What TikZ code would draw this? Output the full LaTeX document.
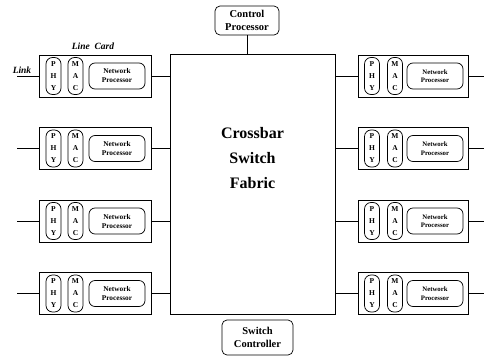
\documentclass[tikz,border=0pt]{standalone}
\usepackage{fontspec}
\setmainfont{Liberation Serif}
\usetikzlibrary{positioning}

\tikzset{
  card/.style={draw, line width=0.9pt, minimum width=112pt, minimum height=42pt, inner sep=0pt},
  pill/.style={draw, line width=0.7pt, rounded corners=6.5pt, minimum width=15pt, minimum height=37pt,
    inner sep=0pt, align=center, font=\fontsize{7.5}{12}\selectfont\bfseries},
  npbox/.style={draw, line width=0.7pt, rounded corners=6pt, minimum width=56pt, minimum height=26pt,
    inner sep=0pt, align=center, font=\fontsize{7.3}{9}\selectfont\bfseries},
  ctlbox/.style={draw, line width=0.7pt, rounded corners=5pt, inner sep=0pt, align=center,
    font=\fontsize{10.5}{12.5}\selectfont\bfseries},
  wire/.style={line width=0.8pt}
}

\begin{document}
\begin{tikzpicture}[x=1pt, y=-1pt]
\useasboundingbox (0,0) rectangle (484,356);

% switch fabric in the middle
\node[draw, line width=0.8pt, minimum width=165pt, minimum height=260pt] (xbar) at (252.5,184) {};
\node[align=center, font=\fontsize{16}{25}\selectfont\bfseries] (xbartext)
  at ([yshift=26pt]xbar.center) {Crossbar\\Switch\\Fabric};

\node[ctlbox, minimum width=64pt, minimum height=29pt] (ctrl) at (247,20.5) {Control\\Processor};
\node[ctlbox, minimum width=71pt, minimum height=35pt] (swctl) at (257.5,337.5) {Switch\\Controller};
\draw[wire] (ctrl.south) -- (ctrl.south |- xbar.north);

% line cards, left and right
\foreach \i/\y in {1/76, 2/148.5, 3/221, 4/293.5} {
  % left side
  \node[card] (lcL\i) at (95,\y) {};
  \node[pill] (phyL\i) at ([xshift=-41.5pt]lcL\i.center) {P\\H\\Y};
  \node[pill] (macL\i) at ([xshift=-19.5pt]lcL\i.center) {M\\A\\C};
  \node[npbox] (npL\i) at ([xshift=22pt]lcL\i.center) {Network\\Processor};
  \coordinate (inL\i) at (17,\y);
  \draw[wire] (inL\i) -- (lcL\i.west);
  \draw[wire] (lcL\i.east) -- (xbar.west |- lcL\i.east);
  % right side
  \node[card, minimum width=110pt] (lcR\i) at (413,\y) {};
  \node[pill] (phyR\i) at ([xshift=-41pt]lcR\i.center) {P\\H\\Y};
  \node[pill] (macR\i) at ([xshift=-18pt]lcR\i.center) {M\\A\\C};
  \node[npbox, font=\fontsize{6.8}{8.5}\selectfont\bfseries] (npR\i) at ([xshift=22pt]lcR\i.center) {Network\\Processor};
  \coordinate (outR\i) at (484,\y);
  \draw[wire] (lcR\i.east) -- (outR\i);
  \draw[wire] (xbar.east |- lcR\i.west) -- (lcR\i.west);
}

% labels
\node[font=\fontsize{9.5}{11}\selectfont\bfseries\itshape] (lclabel) at (93,46) {Line\ \ Card};
\node[font=\fontsize{9.5}{11}\selectfont\bfseries\itshape] (linklabel) at (22,70) {Link};

\end{tikzpicture}
\end{document}
